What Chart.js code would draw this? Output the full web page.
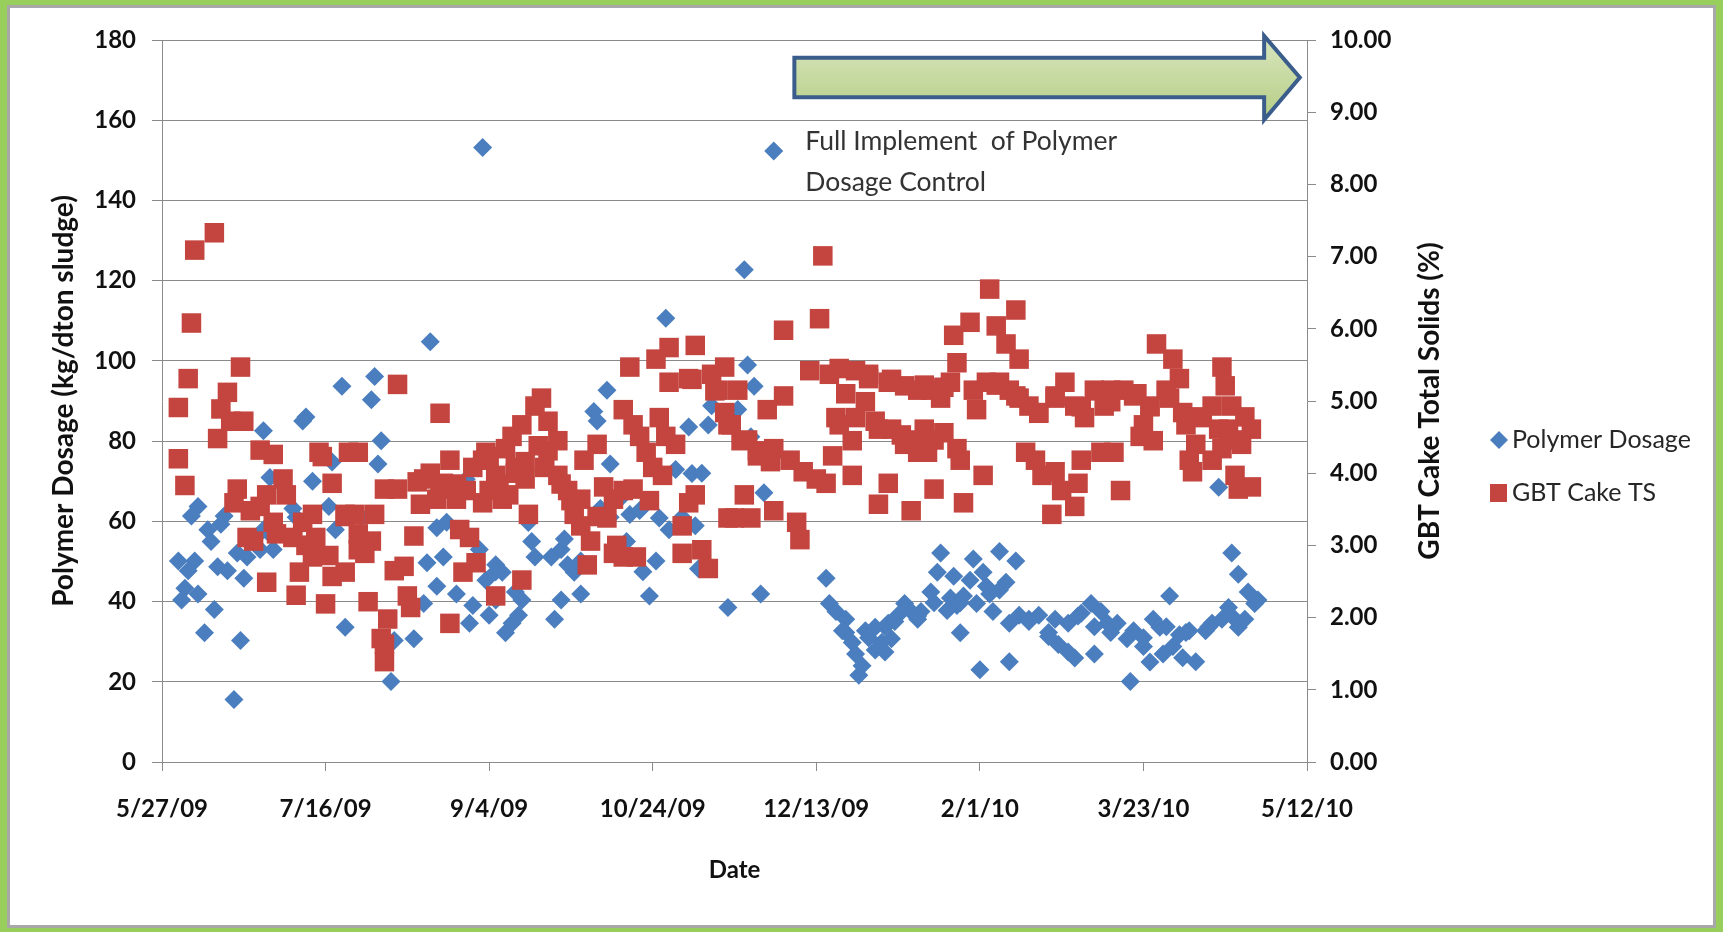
<!DOCTYPE html>
<html>
<head>
<meta charset="utf-8">
<script src="https://cdn.jsdelivr.net/npm/chart.js@4.4.1/dist/chart.umd.min.js"></script>
<style>
  html, body { margin: 0; padding: 0; background: #fff; }
  #wrap { position: relative; width: 1723px; height: 932px; }
  #frame {
    position: absolute; left: 0; top: 0; width: 1723px; height: 932px;
    box-sizing: border-box; border-style: solid; border-color: #98CF5C;
    border-width: 5px 7px 4px 7px; box-shadow: inset 0 0 0 3px #A8A8A8;
    pointer-events: none;
  }
</style>
</head>
<body>
<div id="wrap">
  <canvas id="chart"></canvas>
  <div id="frame"></div>
</div>
<script>
// x values are days after 5/27/09
const dateTicks = ['5/27/09', '7/16/09', '9/4/09', '10/24/09', '12/13/09', '2/1/10', '3/23/10', '5/12/10'];

// Polymer Dosage (kg/dton sludge) - left axis
const dosageDays = [
  55,44,43,31,52,33,46,51,40,11, 9,19,18,14,15,53,5,10,8,17,
  20,23,26,30,25,7,11,6,16,13, 24,56,22,34,31,
  98,82,65,64,67,66,84,87,86,84, 90,93,77,71,70,80,95,94,100,97,
  102,104,105,107,109,108,110,113,114,81, 99,102,
  154,136,132,133,161,167,168,137,157,162, 134,143,146,152,163,155,119,122,124,126,
  128,122,120,128,151,149,142,173,164,140,
  187,178,179,181,176,180,184,183,203,204, 206,209,208,211,212,214,213,215,218,220,
  222,223,225,227,229,231,218,221,
  238,248,256,261,237,242,251,247,235,241, 245,252,256,258,232,243,249,254,244,250,
  259,259,262,265,268,273,271,274,277,279, 277,281,284,287,285,289,
  327,329,332,334,308,323,292,295,297,300, 302,303,305,306,309,311,312,314,316,319,
  321,324,326,329,331,296,335,
  209,216,221,224,231,236,240,244,253,265, 271,280,285,290,300,307,313,320,327,
  34,41,61,102,112,123,137,147,159,165
];
const dosageValues = [
  93.7,86,85,82.6,74.8,70.9,70,63.7,63.2,63.7, 61.3,61.3,59.3,57.9,55,57.9,50.1,50.1,47.7,48.7,
  47.7,52.1,51.1,53,45.8,43.3,41.9,40.4,38,32.2, 30.3,33.6,15.6,56,57.9,
  153.2,104.8,96.1,90.3,80.1,74.3,58.4,59.8,51.1,43.8, 41.9,70.5,30.7,30.3,20.1,39.5,39,34.6,36.6,53,
  49.2,47.3,32.2,34.6,36.6,42.4,40.4,55,51.1,49.7, 45.3,40.4,
  110.6,92.7,87.4,85,83.5,84,88.8,74.3,72.9,71.9, 63.2,61.7,62.7,60.8,58.9,57.9,51.1,53,49.2,47.3,
  50.1,40.4,35.6,41.9,50.1,41.4,55,38.5,48.2,65.6,
  152.3,122.7,99,93.7,87.9,81.1,67.1,41.9,45.8,39.5, 37.5,35.6,32.7,29.8,26.9,24,21.6,32.7,33.6,29.8,
  34.6,30.7,36.6,39.5,37.5,35.6,27.9,27.4,
  52.1,50.6,52.5,50.1,47.3,46.3,47.3,45.3,42.4,40.9, 41.4,43.8,42.9,44.8,37.5,39,39.5,37.5,32.2,23,
  25,34.6,36.6,35.6,36.6,35.6,31.3,29.3,27.4,25.9, 34.6,37.1,39.5,37.5,26.9,34.6,
  52.1,46.8,42.4,39.5,41.4,68.5,34.6,30.7,32.7,28.8, 24.9,35.6,33.6,26.9,28.8,31.7,26,32.7,25,32.7,
  34.6,35.6,38.5,33.6,35.6,20.1,40.4,
  32.3,31,33.7,35,36.4,39.7,37.8,39.7,41.9,35, 32.3,36.4,33.7,32.3,31,33.7,32.3,33.7,36.4,
  53,61,61,47.4,59.7,55.6,61,47.4,61,72
];

// GBT Cake TS (%) - right axis
const solidsDays = [
  16,10,9,24,8,20,5,18,25,21, 17,5,30,34,48,7,23,22,27,32,
  37,38,34,35,28,40,43,46,47,44, 52,49,56,46,42,41,32,50,52,56,
  30,26,57,
  72,85,60,68,72,59,65,60,64,62, 77,71,74,75,76,63,69,68,68,67,
  80,79,84,88,90,86,93,91,94,92, 88,96,98,99,100,98,102,105,107,110,
  114,108,111,112,102,110,104,106,
  143,151,155,163,155,161,168,172,170,173, 141,144,146,152,154,157,148,150,153,116,
  118,121,117,121,124,128,126,129,133,135, 138,141,128,131,130,136,138,141,145,159,
  159,163,165,167,173,161,
  202,201,190,198,204,190,185,212,216,222, 227,231,209,215,207,211,218,223,227,231,
  205,176,174,177,182,187,192,196,200,203, 211,222,178,175,180,187,194,195,219,229,
  253,261,247,242,255,258,262,243,241,235, 238,248,252,256,259,262,265,268,273,276,
  279,282,285,288,249,233,239,234,243,244, 264,267,269,273,281,287,251,236,245,272,
  275,279,280,
  304,309,311,307,324,325,321,317,313,290, 294,298,302,300,303,299,308,316,314,315,
  321,324,331,333,330,328,329,333,293,291, 327,326,
  78,82,85,90,95,100,103,108,111,115, 118,122,125, 46,51,56,60, 133,139,144,149,
  162,169,172,179,182,186, 207,216,223,233,239, 206,212,219,226,231,236,
  255,261,268,273,281,286,290,297,302,307, 312,318,323,328
];
const solidsValues = [
  7.33,7.09,6.08,5.47,5.31,5.12,4.91,4.89,4.72,4.72, 4.48,4.20,4.32,4.26,4.29,3.83,3.78,3.59,3.48,3.70,
  3.92,3.70,3.32,3.16,3.06,3.11,3.32,3.43,3.11,3.00, 3.86,4.23,3.43,2.84,2.63,2.31,2.49,2.19,2.57,2.63,
  3.54,3.11,4.29,
  5.23,4.83,4.29,3.78,3.78,3.43,3.43,3.16,3.06,2.89, 3.13,2.65,2.71,2.30,2.14,2.22,1.98,1.63,1.39,1.71,
  3.92,3.57,3.64,4.18,3.64,3.86,3.76,3.22,3.11,2.63, 1.92,2.76,4.18,4.29,3.76,3.59,3.97,4.34,4.51,4.67,
  4.93,4.08,3.92,3.43,2.30,2.52,3.64,3.70,
  5.47,5.58,5.74,5.77,5.26,5.31,5.37,5.47,5.15,4.67, 4.88,4.67,4.51,4.77,4.51,4.40,4.29,4.08,3.97,5.04,
  4.72,4.45,4.08,3.97,3.76,3.64,3.43,4.18,4.40,3.81, 3.64,3.76,3.27,3.06,2.73,3.38,2.89,2.84,2.84,3.27,
  2.89,3.70,2.94,2.68,3.38,3.59,
  7.01,6.14,5.98,5.42,5.37,5.07,4.88,5.42,5.31,5.26, 5.21,5.15,5.10,4.99,4.67,4.45,4.72,4.61,4.40,4.29,
  4.24,5.15,4.67,4.45,4.24,4.34,4.18,4.02,3.92,3.86, 3.97,3.86,3.70,3.38,3.38,3.48,3.32,3.08,3.57,3.48,
  6.55,6.26,6.09,5.91,6.04,5.79,5.58,5.53,5.26,5.15, 5.04,5.15,5.26,5.26,5.15,5.04,4.93,4.83,5.04,5.26,
  4.93,4.77,5.15,4.93,4.88,4.61,4.56,4.29,4.34,4.18, 4.29,4.18,3.97,4.02,4.18,4.29,3.97,3.78,3.59,3.43,
  3.76,3.54,3.86,
  5.79,5.58,5.31,5.15,5.47,5.21,4.93,4.78,4.67,5.15, 5.15,5.10,4.93,4.67,4.45,4.51,5.04,4.40,4.18,4.02,
  4.18,4.34,4.78,4.61,4.40,3.97,3.78,3.81,3.76,4.29, 4.93,4.61,
  3.88,4.00,3.78,3.85,4.08,4.23,3.85,4.00,4.16,4.38, 4.31,3.85,3.62, 3.00,2.86,3.40,2.94, 3.40,3.00,3.78,3.62,
  5.30,5.14,4.84,4.46,4.31,4.16, 5.45,5.37,5.30,5.22,5.19, 4.77,4.77,4.61,4.53,4.46,4.46,
  5.22,5.07,4.84,5.07,4.92,5.14,4.99,5.07,4.92,5.14, 4.84,4.77,4.61,4.46
];

const seriesNames = ['Polymer Dosage', 'GBT Cake TS'];
const blue = '#4A7EBE';
const red = '#C4453F';

// arrow + note, placed in data units (days / left-axis units)
const arrowSpec = { from: 193.3, neck: 336.9, tip: 347.8, top: 175.6, bottom: 165.7, headTop: 181, headBottom: 160.1 };
const noteLines = ['Full Implement  of Polymer', 'Dosage Control'];
const noteAt = { day: 196.6, values: [154.8, 144.6] };

const tickFont = { family: 'Lato', size: 24, weight: 'bold' };

const overlay = {
  id: 'overlay',
  afterDraw(chart) {
    const { ctx, chartArea: a, scales } = chart;
    const sx = scales.x, sy = scales.y;
    ctx.save();

    // axis titles
    ctx.fillStyle = '#111';
    ctx.textAlign = 'center';
    ctx.textBaseline = 'middle';
    const midY = (a.top + a.bottom) / 2;
    ctx.font = 'bold 28px Lato';
    ctx.save();
    ctx.translate(a.left - 98, midY);
    ctx.rotate(-Math.PI / 2);
    ctx.fillText('Polymer Dosage (kg/dton sludge)', 0, 0);
    ctx.restore();
    ctx.save();
    ctx.translate(a.right + 123, midY);
    ctx.rotate(-Math.PI / 2);
    ctx.fillText('GBT Cake Total Solids (%)', 0, 0);
    ctx.restore();
    ctx.font = 'bold 24px Lato';
    ctx.fillText('Date', (a.left + a.right) / 2, a.bottom + 108);

    // legend
    const lx = a.right + 192;
    const ly = [midY + 39, midY + 92];
    ctx.fillStyle = blue;
    ctx.beginPath();
    ctx.moveTo(lx - 9, ly[0]); ctx.lineTo(lx, ly[0] - 9); ctx.lineTo(lx + 9, ly[0]); ctx.lineTo(lx, ly[0] + 9);
    ctx.closePath(); ctx.fill();
    ctx.fillStyle = red;
    ctx.fillRect(lx - 9, ly[1] - 9, 17, 18);
    ctx.fillStyle = '#262626';
    ctx.font = '25px Lato';
    ctx.textAlign = 'left';
    ctx.fillText(seriesNames[0], lx + 13, ly[0]);
    ctx.fillText(seriesNames[1], lx + 13, ly[1]);

    // arrow
    const X = v => sx.getPixelForValue(v), Y = v => sy.getPixelForValue(v);
    const mid = (arrowSpec.top + arrowSpec.bottom) / 2;
    ctx.beginPath();
    ctx.moveTo(X(arrowSpec.from), Y(arrowSpec.top));
    ctx.lineTo(X(arrowSpec.neck), Y(arrowSpec.top));
    ctx.lineTo(X(arrowSpec.neck), Y(arrowSpec.headTop));
    ctx.lineTo(X(arrowSpec.tip), Y(mid));
    ctx.lineTo(X(arrowSpec.neck), Y(arrowSpec.headBottom));
    ctx.lineTo(X(arrowSpec.neck), Y(arrowSpec.bottom));
    ctx.lineTo(X(arrowSpec.from), Y(arrowSpec.bottom));
    ctx.closePath();
    const g = ctx.createLinearGradient(0, Y(arrowSpec.headTop), 0, Y(arrowSpec.headBottom));
    g.addColorStop(0, '#D9E6BF');
    g.addColorStop(1, '#B5CD84');
    ctx.fillStyle = g;
    ctx.fill();
    ctx.lineWidth = 4;
    ctx.lineJoin = 'miter';
    ctx.strokeStyle = '#3A5D8C';
    ctx.stroke();

    // note
    ctx.fillStyle = '#333';
    ctx.font = '26.5px Lato';
    ctx.textAlign = 'left';
    ctx.textBaseline = 'middle';
    noteLines.forEach((t, i) => ctx.fillText(t, X(noteAt.day), Y(noteAt.values[i])));
    ctx.restore();
  }
};

new Chart(document.getElementById('chart'), {
  type: 'scatter',
  data: {
    datasets: [
      {
        label: seriesNames[0],
        data: dosageDays.map((d, i) => ({ x: d, y: dosageValues[i] })),
        yAxisID: 'y',
        pointStyle: 'rectRot',
        pointRadius: 9.5,
        backgroundColor: blue,
        borderWidth: 0,
        order: 1
      },
      {
        label: seriesNames[1],
        data: solidsDays.map((d, i) => ({ x: d, y: solidsValues[i] })),
        yAxisID: 'y2',
        pointStyle: 'rect',
        pointRadius: 13.8,
        backgroundColor: red,
        borderWidth: 0,
        order: 0
      }
    ]
  },
  options: {
    responsive: true,
    maintainAspectRatio: false,
    animation: false,
    layout: { padding: { top: 40, left: 0, right: 0, bottom: 0 } },
    plugins: { legend: { display: false }, tooltip: { enabled: false } },
    scales: {
      x: {
        type: 'linear', position: 'bottom', min: 0, max: 350,
        afterFit: s => { s.height = 170; },
        ticks: { stepSize: 50, color: '#111', font: tickFont, padding: 24, maxRotation: 0,
                 callback: v => dateTicks[Math.round(v / 50)] },
        grid: { drawOnChartArea: false, drawTicks: true, tickLength: 9, color: '#8a8a8a' },
        border: { color: '#8a8a8a' }
      },
      y: {
        position: 'left', min: 0, max: 180,
        afterFit: s => { s.width = 162; },
        ticks: { stepSize: 20, color: '#111', font: tickFont, padding: 16 },
        grid: { color: '#8a8a8a', tickLength: 10 },
        border: { color: '#8a8a8a' }
      },
      y2: {
        position: 'right', min: 0, max: 10,
        afterFit: s => { s.width = 416; },
        ticks: { stepSize: 1, color: '#111', font: tickFont, padding: 14, callback: v => v.toFixed(2) },
        grid: { drawOnChartArea: false, tickLength: 9, color: '#8a8a8a' },
        border: { color: '#8a8a8a' }
      }
    }
  },
  plugins: [overlay]
});
</script>
</body>
</html>
